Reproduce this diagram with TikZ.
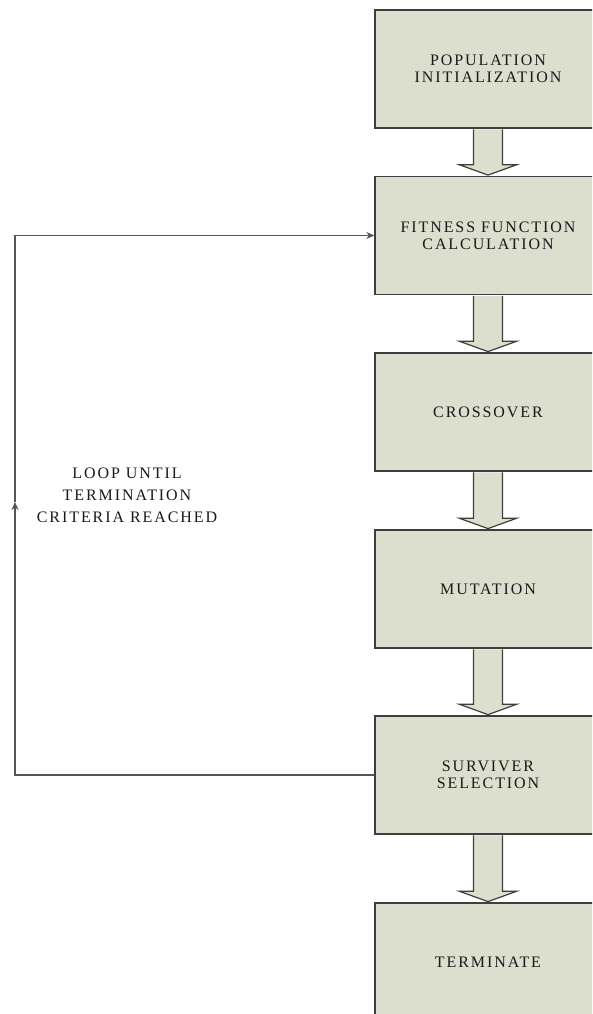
\documentclass[tikz,border=0pt]{standalone}
\usepackage{fontspec}
\setmainfont{Liberation Serif}
\newfontfamily\capsfont[LetterSpace=12]{Liberation Serif}
\usepackage{tikz}
\usetikzlibrary{arrows.meta,positioning,calc}
\usepackage{xcolor}
\definecolor{boxfill}{RGB}{220,223,205}
\definecolor{boxline}{RGB}{62,62,62}
\definecolor{loopline}{RGB}{85,85,85}
% hollow arrow from the bottom of #1 to the top of #2
\newcommand{\blockarrow}[2]{%
  \filldraw[blockarrow] ($(#1.south)+(-14.5,0.7)$) -- ($(#2.north)+(-14.5,-11)$)
    -- ($(#2.north)+(-28.5,-11)$) -- ($(#2.north)+(0,-0.7)$)
    -- ($(#2.north)+(28.5,-11)$) -- ($(#2.north)+(14.5,-11)$)
    -- ($(#1.south)+(14.5,0.7)$);}

\begin{document}
\begin{tikzpicture}[x=1pt, y=-1pt,
    stage/.style={draw=boxline, line width=1.4pt, fill=boxfill, minimum width=226pt,
      minimum height=118pt, inner sep=0pt, align=center, text=black!90,
      font=\capsfont\fontsize{16}{17}\selectfont},
    blockarrow/.style={draw=boxline, line width=1.2pt, fill=boxfill},
    looparrow/.style={draw=loopline, line width=1.1pt, -{Stealth[length=8pt,width=7pt]}},
    looplabel/.style={align=center, text=black!90, font=\capsfont\fontsize{16}{22}\selectfont}]
                    \useasboundingbox (0,0) rectangle (592,1014);
                    \clip (0,0) rectangle (592,1014);

                    % Stages
                    \node[stage] (init) at (488,69)    {POPULATION\\INITIALIZATION};
                    \node[stage] (fit)  at (488,235.5) {FITNESS FUNCTION\\CALCULATION};
                    \node[stage] (cross) at (488,412)  {CROSSOVER};
                    \node[stage] (mut)  at (488,589)   {MUTATION};
                    \node[stage] (surv) at (488,775)   {SURVIVER\\SELECTION};
                    \node[stage] (term) at (488,962)   {TERMINATE};

                    % Block arrows
                    \blockarrow{init}{fit}
                    \blockarrow{fit}{cross}
                    \blockarrow{cross}{mut}
                    \blockarrow{mut}{surv}
                    \blockarrow{surv}{term}

                    % Loop back
                    \coordinate (loopmid) at (15,502);
                    \draw[looparrow] (surv.west) -| (loopmid);
                    \draw[looparrow] (loopmid) |- (fit.west);
                    \node[looplabel] (loop) at (127,495) {LOOP UNTIL\\TERMINATION\\CRITERIA REACHED};
                \end{tikzpicture}
\end{document}
